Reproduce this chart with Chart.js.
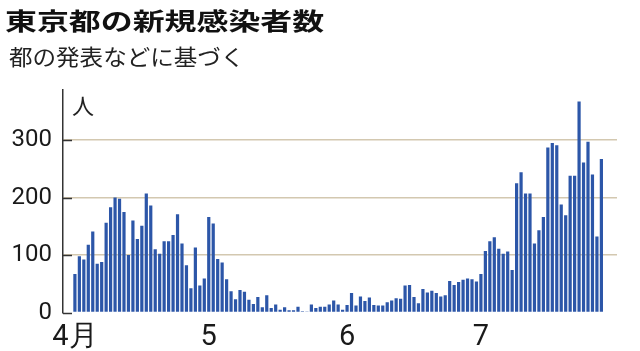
<!DOCTYPE html>
<html>
<head>
<meta charset="utf-8">
<script src="https://cdn.jsdelivr.net/npm/chart.js@4/dist/chart.umd.min.js"></script>
<style>
  html, body { margin: 0; padding: 0; background: #fff; }
  #wrap { position: relative; width: 640px; height: 351px; overflow: hidden; }
  #my-chart { position: absolute; left: 0; top: 0; }
  .title {
    position: absolute; left: 5px; top: 2px; white-space: nowrap;
    font: bold 24px "Noto Sans CJK JP"; color: #111;
    transform: scaleX(1.33); transform-origin: left top;
  }
  .sub {
    position: absolute; left: 9px; top: 39px; white-space: nowrap;
    font: 22px "Noto Sans CJK JP"; color: #222;
    transform: scaleX(1.07); transform-origin: left top;
  }
  .unit {
    position: absolute; left: 72px; top: 88px;
    font: 22px "Noto Sans CJK JP"; color: #222;
  }
</style>
</head>
<body>
<div id="wrap">
  <canvas id="my-chart" width="640" height="351"></canvas>
  <div class="title">東京都の新規感染者数</div>
  <div class="sub">都の発表などに基づく</div>
  <div class="unit">人</div>
</div>
<script>
// daily new cases, Apr 1 - Jul 28
const aprCases = [67, 98, 92, 118, 141, 85, 88, 156, 183, 200, 198, 175, 100, 160, 128,
  151, 207, 186, 110, 102, 124, 124, 135, 171, 120, 82, 42, 113, 47, 59];
const mayCases = [166, 155, 93, 87, 58, 37, 23, 39, 36, 22, 15, 27, 9, 30, 8, 14, 5, 9, 4,
  4, 10, 2, 1, 14, 8, 10, 10, 14, 21, 14, 5];
const junCases = [13, 34, 12, 28, 20, 26, 13, 12, 12, 18, 21, 25, 24, 47, 48, 27, 16, 41,
  35, 38, 34, 28, 30, 55, 48, 53, 57, 59, 58, 54];
const julCases = [67, 107, 124, 131, 111, 102, 106, 74, 225, 244, 207, 207, 120, 143, 166,
  287, 295, 291, 188, 169, 238, 238, 367, 261, 297, 240, 132, 267];

const monthLabels = ["4月", "5", "6", "7"];
const yTicks = [0, 100, 200, 300];

const months = [aprCases, mayCases, junCases, julCases];
const monthStarts = [];
const points = [];
months.forEach((m) => {
  monthStarts.push(points.length);
  m.forEach((v) => points.push({ x: points.length, y: v }));
});

// short dark tick marks inside the y axis
const innerTicks = {
  id: "innerTicks",
  afterDraw(chart) {
    const y = chart.scales.y;
    const ctx = chart.ctx;
    ctx.save();
    ctx.strokeStyle = "#333";
    ctx.lineWidth = 1.5;
    yTicks.forEach((t) => {
      const py = Math.round(y.getPixelForValue(t)) + 0.5;
      ctx.beginPath();
      ctx.moveTo(y.right, py);
      ctx.lineTo(y.right + 9, py);
      ctx.stroke();
    });
    ctx.restore();
  },
};

const chartConfig = {
  type: "bar",
  data: {
    datasets: [
      {
        data: points,
        backgroundColor: "rgb(44, 86, 168)",
        barPercentage: 0.72,
        categoryPercentage: 1,
      },
    ],
  },
  options: {
    responsive: false,
    animation: false,
    layout: { padding: { left: 0, top: 90, right: 23, bottom: 0 } },
    plugins: { legend: { display: false }, tooltip: { enabled: false } },
    scales: {
      x: {
        type: "linear",
        offset: false,
        min: -2.67,
        max: 121.5,
        grid: { display: false, offset: false },
        border: { display: false },
        afterBuildTicks: (scale) => {
          scale.ticks = monthStarts.map((v) => ({ value: v }));
        },
        afterFit: (scale) => { scale.height = 38.5; },
        ticks: {
          autoSkip: false,
          maxRotation: 0,
          padding: 0,
          color: "#1a1a1a",
          font: { family: "Roboto", size: 29 },
          callback: (v) => monthLabels[monthStarts.indexOf(v)],
        },
      },
      y: {
        min: 0,
        max: 387,
        afterBuildTicks: (scale) => {
          scale.ticks = yTicks.map((v) => ({ value: v }));
        },
        afterFit: (scale) => { scale.width = 63; },
        grid: {
          drawTicks: false,
          color: (c) => (c.tick && c.tick.value === 0 ? "rgba(0,0,0,0)" : "#d3c8b0"),
          lineWidth: 1.5,
        },
        border: { display: true, color: "#333", width: 1.5 },
        ticks: {
          padding: 11,
          color: "#1a1a1a",
          font: { family: "Roboto", size: 24 },
        },
      },
    },
  },
  plugins: [innerTicks],
};

const myChart = new Chart(document.getElementById("my-chart"), chartConfig);
</script>
</body>
</html>
